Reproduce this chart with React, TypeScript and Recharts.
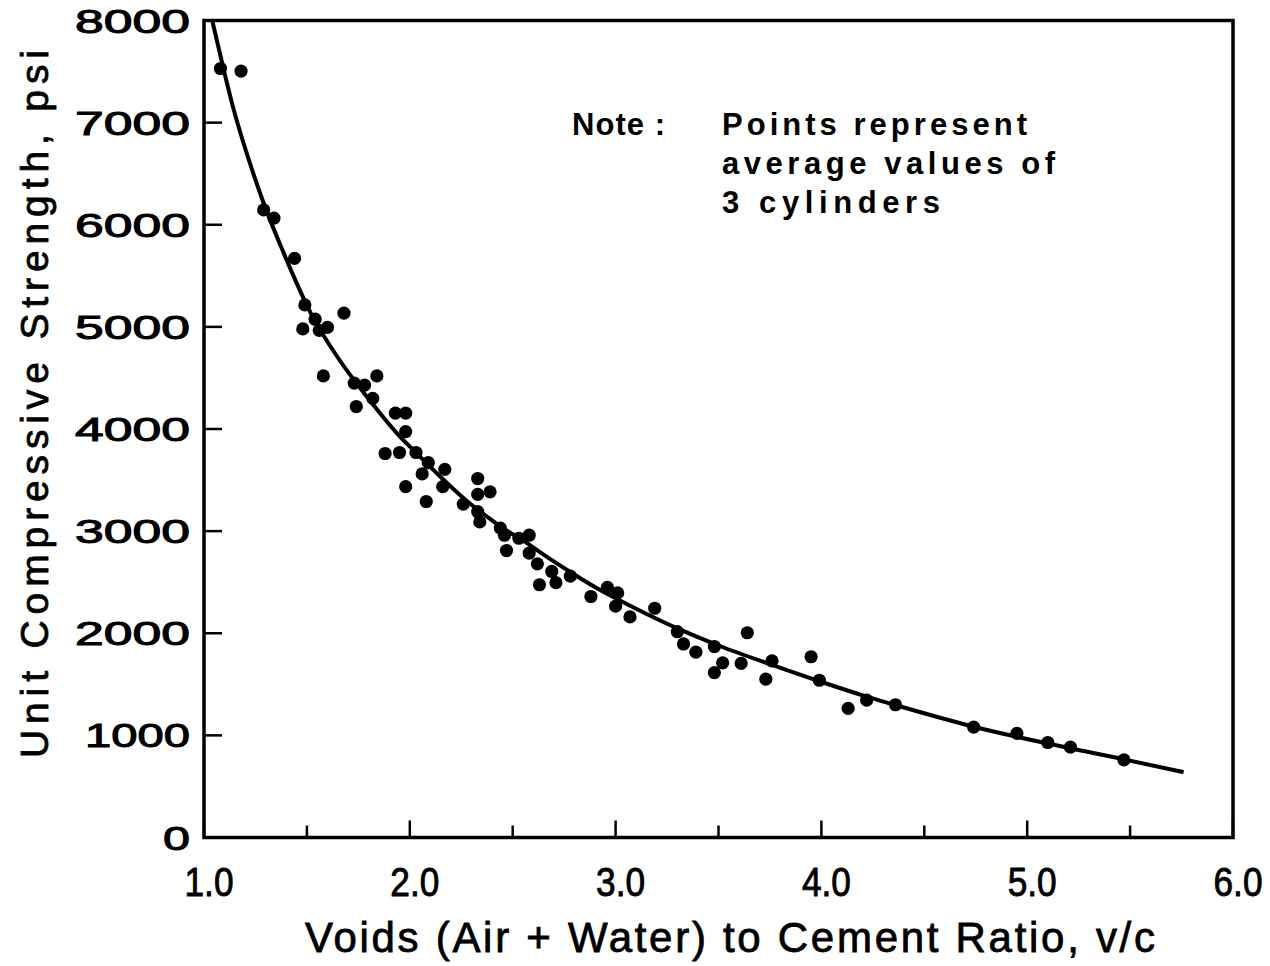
import { ComposedChart, Line, Scatter, XAxis, YAxis, ReferenceArea, Label } from "recharts";

// measured points (void/cement ratio, strength psi)
const pointV = [
  1.08, 1.18, 1.29, 1.34, 1.44, 1.49, 1.48, 1.54, 1.56, 1.6, 1.68, 1.58, 1.73, 1.78, 1.84, 1.82, 1.74, 1.93,
  1.98, 1.98, 1.88, 1.95, 2.03, 2.09, 2.06, 2.17, 1.98, 2.16, 2.08, 2.26, 2.33, 2.39, 2.33, 2.33, 2.34, 2.44,
  2.46, 2.53, 2.58, 2.47, 2.58, 2.62, 2.69, 2.71, 2.63, 2.78, 2.88, 2.96, 3.01, 3.0, 3.07, 3.19, 3.3, 3.33,
  3.39, 3.48, 3.52, 3.48, 3.61, 3.64, 3.76, 3.73, 3.95, 3.99, 4.13, 4.22, 4.36, 4.74, 4.95, 5.1, 5.21, 5.47,
];
const pointS = [
  7530, 7505, 6145, 6065, 5670, 5215, 4980, 5075, 4965, 4995, 5135, 4520, 4450, 4430, 4520, 4300, 4220, 4155,
  4155, 3975, 3760, 3770, 3770, 3670, 3560, 3605, 3435, 3435, 3290, 3265, 3515, 3385, 3360, 3190, 3090, 3030,
  2960, 2930, 2960, 2810, 2785, 2680, 2605, 2495, 2475, 2560, 2360, 2450, 2395, 2265, 2160, 2245, 2015, 1895,
  1815, 1870, 1710, 1615, 1705, 2005, 1730, 1550, 1770, 1540, 1265, 1345, 1300, 1080, 1020, 930, 885, 760,
];

// fitted curve
const curveV = [
  1.04, 1.07, 1.14, 1.24, 1.29, 1.39, 1.52, 1.65, 1.79, 1.95, 2.05, 2.16, 2.28, 2.37, 2.46, 2.55, 2.65, 2.78,
  2.91, 3.08, 3.32, 3.5, 3.76, 3.99, 4.22, 4.38, 4.74, 5.1, 5.47, 5.76,
];
const curveS = [
  8000, 7740, 7160, 6500, 6210, 5710, 5130, 4700, 4320, 3930, 3730, 3510, 3290, 3150, 3020, 2910, 2770, 2600,
  2440, 2260, 2030, 1880, 1690, 1530, 1380, 1285, 1085, 920, 765, 640,
];

const xTicks = [1, 1.5, 2, 2.5, 3, 3.5, 4, 4.5, 5, 5.5, 6];
const yTicks = [0, 1000, 2000, 3000, 4000, 5000, 6000, 7000, 8000];
const noteLines = ["Points represent", "average values of", "3 cylinders"];

const points = pointV.map((v, i) => ({ v, s: pointS[i] }));
const curve = curveV.map((v, i) => ({ v, s: curveS[i] }));

const FONT = "'Liberation Sans', Arial, sans-serif";

const XTick = ({ x, y, payload }: any) => {
  const v = payload.value as number;
  const major = Math.abs(v - Math.round(v)) < 1e-6;
  return (
    <g>
      <line x1={x} x2={x} y1={y} y2={y - (major ? 17 : 12)} stroke="#000" strokeWidth={2.5} />
      {major && (
        <text
          x={x + 5}
          y={y + 58}
          textAnchor="middle"
          fontFamily={FONT}
          fontSize={40}
          textLength={49}
          lengthAdjust="spacingAndGlyphs"
          fill="#000"
          stroke="#000"
          strokeWidth={0.9}
        >
          {v.toFixed(1)}
        </text>
      )}
    </g>
  );
};

const YTick = ({ x, y, payload }: any) => {
  const label = String(payload.value);
  const len = label.length === 1 ? 27 : label.startsWith("1") ? 105 : 115;
  return (
    <g>
      <line x1={x} x2={x + 18} y1={y} y2={y} stroke="#000" strokeWidth={2.5} />
      <text
        x={x - 14}
        y={y + 12}
        textAnchor="end"
        fontFamily={FONT}
        fontSize={33}
        textLength={len}
        lengthAdjust="spacingAndGlyphs"
        fill="#000"
        stroke="#000"
        strokeWidth={1}
      >
        {label}
      </text>
    </g>
  );
};

const Dot = (props: any) => <circle cx={props.cx} cy={props.cy} r={6.6} fill="#000" />;

export default function App() {
  // the wrapper cancels the body margin so the chart covers the whole page
  return (
    <div style={{ position: "relative", left: -8, top: -8, width: 1270, height: 966 }}>
      <ComposedChart width={1270} height={966} margin={{ top: 20.5, right: 37, left: 84, bottom: 28.5 }}>
        <XAxis
          type="number"
          dataKey="v"
          domain={[1, 6]}
          ticks={xTicks}
          interval={0}
          allowDataOverflow
          axisLine={false}
          tickLine={false}
          tickSize={0}
          tickMargin={0}
          tick={<XTick />}
          height={100}
        >
          <Label
            content={(p: any) => {
              const vb = p.viewBox;
              return (
                <text
                  x={vb.x + vb.width / 2 + 11.5}
                  y={vb.y + 114}
                  textAnchor="middle"
                  fontFamily={FONT}
                  fontSize={42}
                  textLength={850}
                  lengthAdjust="spacing"
                  fill="#000"
                  stroke="#000"
                  strokeWidth={0.8}
                >
                  Voids (Air + Water) to Cement Ratio, v/c
                </text>
              );
            }}
          />
        </XAxis>
        <YAxis
          type="number"
          dataKey="s"
          domain={[0, 8000]}
          ticks={yTicks}
          interval={0}
          allowDataOverflow
          axisLine={false}
          tickLine={false}
          tickSize={0}
          tickMargin={0}
          tick={<YTick />}
          width={120}
        >
          <Label
            content={() => (
              <text
                x={48}
                y={404}
                transform="rotate(-90, 48, 404)"
                textAnchor="middle"
                fontFamily={FONT}
                fontSize={39}
                textLength={708}
                lengthAdjust="spacing"
                fill="#000"
                stroke="#000"
                strokeWidth={0.8}
              >
                Unit Compressive Strength, psi
              </text>
            )}
          />
        </YAxis>
        <ReferenceArea x1={1} x2={6} y1={0} y2={8000} fill="none" stroke="#000" strokeWidth={3.5} />
        <Line
          data={curve}
          dataKey="s"
          type="monotone"
          stroke="#000"
          strokeWidth={4}
          dot={false}
          isAnimationActive={false}
        />
        <Scatter data={points} dataKey="s" fill="#000" shape={<Dot />} isAnimationActive={false} />
      </ComposedChart>
      <svg width={1270} height={966} style={{ position: "absolute", left: 0, top: 0, pointerEvents: "none" }}>
        <text x={572} y={135} fontFamily={FONT} fontWeight="bold" fontSize={31} textLength={93} lengthAdjust="spacing">
          Note :
        </text>
        {noteLines.map((t, i) => (
          <text
            key={t}
            x={722}
            y={135 + i * 39}
            fontFamily={FONT}
            fontWeight="bold"
            fontSize={31}
            textLength={[305, 333, 218][i]}
            lengthAdjust="spacing"
          >
            {t}
          </text>
        ))}
      </svg>
    </div>
  );
}
